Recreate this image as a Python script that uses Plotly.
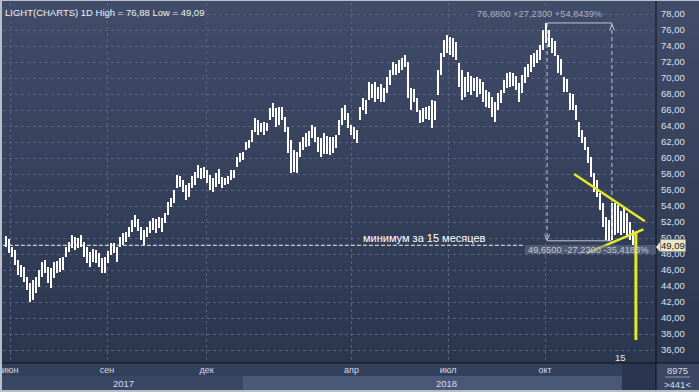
import plotly.graph_objects as go

# ---------------- data ----------------
highs = [
    50.3, 49.9, 48.9, 48.5, 47.3, 46.6, 46.4, 45.1, 44.4, 44.75,
    45.1, 46.0, 47.0, 47.3, 46.4, 46.25, 47.0, 47.1, 47.5, 47.6,
    48.9, 49.5, 50.4, 50.1, 50.0, 50.4, 49.5, 48.9, 48.25, 48.6,
    48.5, 48.1, 47.5, 47.6, 48.4, 49.4, 49.4, 48.9, 50.1, 50.6,
    50.75, 51.4, 52.25, 52.9, 52.4, 51.4, 51.0, 51.4, 52.1, 52.5,
    52.4, 52.6, 52.5, 53.1, 54.5, 55.0, 56.0, 57.9, 57.75, 57.25,
    56.6, 56.9, 57.75, 58.25, 59.1, 58.75, 58.9, 58.5, 57.9, 57.5,
    58.1, 58.6, 57.6, 57.5, 57.75, 58.5, 58.5, 60.1, 60.6, 60.75,
    62.0, 62.25, 63.5, 65.0, 64.75, 64.4, 64.5, 64.4, 66.25, 66.9,
    66.25, 66.4, 66.4, 65.1, 63.9, 62.25, 61.0, 60.75, 62.0, 62.6,
    63.1, 63.4, 64.1, 63.9, 62.6, 62.5, 63.1, 62.75, 62.6, 62.6,
    62.9, 64.75, 66.25, 66.6, 65.6, 64.1, 63.9, 63.5, 66.4, 67.5,
    67.25, 69.5, 69.25, 69.5, 68.9, 69.2, 68.75, 70.1, 71.0, 72.0,
    71.75, 72.25, 72.5, 72.9, 72.0, 68.75, 68.6, 67.5, 66.0, 66.25,
    66.4, 66.5, 67.25, 67.1, 71.0, 73.1, 74.75, 75.4, 75.1, 75.0,
    74.5, 71.9, 71.0, 70.1, 70.75, 70.25, 70.0, 70.1, 69.9, 69.5,
    68.5, 68.25, 67.6, 67.0, 68.1, 68.5, 69.75, 70.6, 70.75, 70.6,
    70.25, 69.4, 70.4, 71.4, 71.75, 72.9, 73.1, 73.5, 74.1, 76.0,
    76.88, 76.0, 75.0, 74.6, 72.9, 72.4, 70.1, 69.9, 68.1, 68.0,
    66.6, 64.5, 63.5, 62.6, 61.4, 60.1, 58.1, 57.25, 55.6, 54.4,
    52.6, 52.25, 54.4, 54.4, 54.1, 53.4, 53.75, 53.1, 52.0, 51.0,
]
lows = [
    48.9, 48.1, 47.6, 46.6, 45.4, 45.1, 44.5, 43.5, 42.0, 42.25,
    43.1, 43.9, 45.1, 45.6, 44.4, 43.75, 45.0, 45.6, 45.75, 46.0,
    47.6, 48.25, 48.75, 48.5, 48.75, 48.9, 47.6, 46.9, 46.4, 47.0,
    46.9, 46.4, 45.6, 45.6, 46.9, 47.9, 48.1, 47.0, 48.9, 49.1,
    49.5, 50.1, 50.75, 51.4, 50.9, 49.75, 49.1, 50.1, 50.6, 51.0,
    50.6, 51.25, 50.75, 51.9, 52.9, 53.9, 54.4, 56.25, 56.4, 55.75,
    54.75, 55.1, 56.25, 56.6, 57.5, 57.4, 57.5, 56.9, 56.0, 55.75,
    56.4, 56.75, 56.25, 56.6, 56.75, 57.25, 57.5, 58.9, 59.5, 59.75,
    61.0, 61.25, 62.0, 63.25, 62.9, 63.25, 62.9, 63.4, 64.75, 65.1,
    63.9, 64.1, 64.75, 63.25, 60.6, 58.1, 58.25, 58.1, 60.1, 61.0,
    61.4, 61.5, 62.5, 62.0, 60.75, 60.1, 60.5, 60.5, 60.4, 60.6,
    61.25, 62.9, 64.1, 64.75, 63.75, 62.9, 62.4, 61.9, 64.75, 66.0,
    65.5, 67.25, 67.5, 67.0, 67.4, 67.0, 67.0, 68.1, 69.1, 70.4,
    70.4, 70.6, 71.0, 71.4, 67.5, 66.0, 67.0, 65.75, 64.4, 64.5,
    64.9, 64.75, 63.75, 64.75, 67.9, 70.4, 72.6, 73.1, 72.9, 72.6,
    72.25, 68.9, 67.25, 67.6, 68.25, 67.9, 68.4, 67.6, 68.0, 67.0,
    66.4, 66.25, 65.1, 64.5, 66.0, 66.9, 68.1, 68.75, 68.9, 69.0,
    68.5, 67.0, 68.1, 69.4, 70.1, 70.75, 71.4, 71.9, 72.25, 73.5,
    74.4, 73.9, 73.1, 72.75, 70.6, 70.4, 68.25, 68.25, 66.0, 66.0,
    64.75, 62.6, 61.9, 61.0, 59.4, 57.6, 55.75, 55.1, 53.5, 51.4,
    49.75, 49.65, 49.75, 50.4, 50.6, 50.4, 50.6, 50.1, 49.75, 49.09,
]
bar_index = list(range(len(highs)))

month_ticks = [1.17, 33.5, 66.7, 115.0, 147.2, 179.5]
month_labels = ["июн", "сен", "дек", "апр", "июл", "окт"]
year_labels = ["2017", "2018"]
price_ticks = list(range(36, 80, 2))
price_labels = [f"{p},00" for p in price_ticks]

peak_price = 76.88
trough_price = 49.65
last_price = 49.09
peak_bar = 180.2
measure_end_bar = 201.8

# ---------------- geometry helpers ----------------
W, H = 699, 392
ML, MR, MT, MB = 3, 43, 3, 29
PW = W - ML - MR
PH = H - MT - MB


def px(x):
    return (x - ML) / PW


def py(y):
    return (H - MB - y) / PH


GRID = "#56627e"
FONT = "Liberation Sans"

fig = go.Figure()
fig.add_trace(go.Bar(
    x=bar_index,
    y=[h - l for h, l in zip(highs, lows)],
    base=lows,
    width=0.5,
    marker=dict(color="#ffffff", line=dict(width=0)),
    hoverinfo="skip",
    showlegend=False,
))

shapes = []
# background gradient (plot + price panel)
top = (64, 76, 104)
bot = (43, 54, 79)
n = 30
for k in range(n):
    t = (k + 0.5) / n
    c = tuple(int(round(top[j] + (bot[j] - top[j]) * t)) for j in range(3))
    shapes.append(dict(type="rect", xref="paper", yref="paper", layer="below",
                       x0=px(0), x1=px(W), y0=py(363) + (1 - (k + 1) / n) * (py(0) - py(363)) - 0.001,
                       y1=py(363) + (1 - k / n) * (py(0) - py(363)) + 0.001,
                       line=dict(width=0), fillcolor="rgb(%d,%d,%d)" % c))
# bottom date panel
shapes += [
    dict(type="rect", xref="paper", yref="paper", layer="below", x0=px(0), x1=px(656),
         y0=py(392), y1=py(363), line=dict(width=0), fillcolor="#33405c"),
    dict(type="rect", xref="paper", yref="paper", layer="below", x0=px(0), x1=px(656),
         y0=py(390), y1=py(376), line=dict(width=0), fillcolor="#3a4764"),
    dict(type="rect", xref="paper", yref="paper", layer="below", x0=px(243), x1=px(622),
         y0=py(390), y1=py(376), line=dict(width=0), fillcolor="#4a5877"),
    dict(type="rect", xref="paper", yref="paper", layer="below", x0=px(622), x1=px(656),
         y0=py(390), y1=py(363), line=dict(width=0), fillcolor="#2b3550"),
    dict(type="rect", xref="paper", yref="paper", layer="below", x0=px(656), x1=px(W),
         y0=py(392), y1=py(363), line=dict(width=0), fillcolor="#3a4663"),
    # frame
    dict(type="rect", xref="paper", yref="paper", layer="above", x0=px(0), x1=px(2),
         y0=py(392), y1=py(0), line=dict(width=0), fillcolor="#b9bfc9"),
    dict(type="rect", xref="paper", yref="paper", layer="above", x0=px(0), x1=px(W),
         y0=py(1), y1=py(0), line=dict(width=0), fillcolor="#b9bfc9"),
    dict(type="rect", xref="paper", yref="paper", layer="above", x0=px(0), x1=px(W),
         y0=py(392), y1=py(390), line=dict(width=0), fillcolor="#b9bfc9"),
    # separators
    dict(type="line", xref="paper", yref="paper", layer="above", x0=px(656), x1=px(656),
         y0=py(390), y1=py(1), line=dict(color="#0e1320", width=1)),
    dict(type="line", xref="paper", yref="paper", layer="above", x0=px(2), x1=px(W),
         y0=py(363), y1=py(363), line=dict(color="#0e1320", width=1.2)),
    dict(type="line", xref="paper", yref="paper", layer="above", x0=px(665), x1=px(690),
         y0=py(377), y1=py(377), line=dict(color="#8a94aa", width=1)),
]

MEAS = "#c3c8d2"
shapes += [
    # last-price dotted line
    dict(type="line", xref="x", yref="y", x0=-1.2, x1=172.8, y0=last_price, y1=last_price,
         line=dict(color="#f2f2f2", width=1, dash="4px,2px")),
    # measurement tool
    dict(type="line", xref="x", yref="y", x0=peak_bar, x1=measure_end_bar,
         y0=peak_price, y1=peak_price, line=dict(color=MEAS, width=1)),
    dict(type="line", xref="x", yref="y", x0=peak_bar, x1=measure_end_bar,
         y0=trough_price, y1=trough_price, line=dict(color=MEAS, width=1)),
    dict(type="line", xref="x", yref="y", x0=peak_bar, x1=peak_bar,
         y0=peak_price, y1=trough_price, line=dict(color=MEAS, width=1, dash="4px,3px")),
    dict(type="line", xref="x", yref="y", x0=measure_end_bar, x1=measure_end_bar,
         y0=peak_price, y1=trough_price + 0.4, line=dict(color=MEAS, width=1, dash="4px,3px")),
    dict(type="path", xref="x", yref="y",
         path=f"M {peak_bar - 0.8},{trough_price + 0.8} L {peak_bar},{trough_price + 0.1} L {peak_bar + 0.8},{trough_price + 0.8}",
         line=dict(color=MEAS, width=1)),
    dict(type="path", xref="x", yref="y",
         path=f"M {measure_end_bar - 0.8},{peak_price - 0.9} L {measure_end_bar},{peak_price - 0.2} L {measure_end_bar + 0.8},{peak_price - 0.9}",
         line=dict(color=MEAS, width=1)),
    # yellow trend lines
    dict(type="line", xref="x", yref="y", x0=189.2, x1=212.8, y0=58.0, y1=52.1,
         line=dict(color="#e8e828", width=2.5)),
    dict(type="line", xref="x", yref="y", x0=193.5, x1=212.3, y0=48.1, y1=51.09,
         line=dict(color="#e8e828", width=2.5)),
    # measurement result box (semi-transparent)
    dict(type="rect", xref="x", yref="y", x0=172.8, x1=216.6, y0=48.0, y1=49.12,
         line=dict(width=0), fillcolor="rgba(105,115,138,0.55)"),
    # vertical yellow target line
    dict(type="line", xref="x", yref="y", x0=209.8, x1=209.8, y0=50.8, y1=37.25,
         line=dict(color="#e8e828", width=3)),
    # price marker arrow
    dict(type="path", xref="paper", yref="paper",
         path=f"M {px(656)},{py(247)} L {px(660)},{py(242)} L {px(660)},{py(252)} Z",
         fillcolor="#e9e6c9", line=dict(width=0)),
]

annotations = [
    dict(xref="paper", yref="paper", x=px(3), y=py(12), xanchor="left", yanchor="middle",
         text="LIGHT(CHARTS) 1D High = 76,88 Low = 49,09", showarrow=False,
         font=dict(family=FONT, size=9.5, color="#eef0f4")),
    dict(xref="x", yref="y", x=177.8, y=77.94, xanchor="center", yanchor="middle",
         text="76,8800 +27,2300 +54,8439%", showarrow=False,
         font=dict(family=FONT, size=9.3, color="#a9b1c3")),
    dict(xref="x", yref="y", x=173.2, y=48.56, xanchor="left", yanchor="middle",
         text="49,6500 -27,2300 -35,4183%", showarrow=False,
         font=dict(family=FONT, size=9.3, color="#c4c9d5")),
    dict(xref="x", yref="y", x=139.3, y=49.94, xanchor="center", yanchor="middle",
         text="минимум за 15 месяцев", showarrow=False,
         font=dict(family=FONT, size=11, color="#ffffff")),
    dict(xref="x", yref="y", x=204.5, y=35.1, xanchor="center", yanchor="middle",
         text="15", showarrow=False, font=dict(family=FONT, size=9.5, color="#e8ecf2")),
    dict(xref="paper", yref="y", x=px(660), y=last_price, xanchor="left", yanchor="middle",
         text=f"{last_price:.2f}".replace(".", ","), showarrow=False,
         bgcolor="#e9e6c9", bordercolor="#9a967c", borderwidth=1, borderpad=0,
         font=dict(family=FONT, size=9.5, color="#1c1c1c")),
    dict(xref="paper", yref="paper", x=px(123), y=py(383.5), xanchor="center", yanchor="middle",
         text=year_labels[0], showarrow=False, font=dict(family=FONT, size=9.5, color="#d4dae6")),
    dict(xref="paper", yref="paper", x=px(447), y=py(383.5), xanchor="center", yanchor="middle",
         text=year_labels[1], showarrow=False, font=dict(family=FONT, size=9.5, color="#d4dae6")),
    dict(xref="paper", yref="paper", x=px(677), y=py(370), xanchor="center", yanchor="middle",
         text="8975", showarrow=False, font=dict(family=FONT, size=9.5, color="#d4dae6")),
    dict(xref="paper", yref="paper", x=px(677), y=py(384), xanchor="center", yanchor="middle",
         text="&gt;441&lt;", showarrow=False, font=dict(family=FONT, size=9.5, color="#d4dae6")),
]

fig.update_layout(
    width=W, height=H,
    margin=dict(l=ML, r=MR, t=MT, b=MB, pad=0),
    paper_bgcolor="#33405c",
    plot_bgcolor="#36425f",
    showlegend=False,
    bargap=0,
    shapes=shapes,
    annotations=annotations,
    xaxis=dict(
        range=[-1.1667, 216.5], tickmode="array", tickvals=month_ticks, ticktext=month_labels,
        showgrid=True, gridcolor=GRID, griddash="3px,3px", gridwidth=1,
        zeroline=False, showline=False, ticks="", ticklabelstandoff=0,
        tickfont=dict(family=FONT, size=9, color="#d4dae6"), fixedrange=True,
    ),
    yaxis=dict(
        range=[34.375, 79.375], side="right", tickmode="array", tickvals=price_ticks,
        ticktext=price_labels, showgrid=True, gridcolor=GRID, griddash="3px,3px", gridwidth=1,
        zeroline=False, showline=False, ticks="", ticklabelstandoff=4,
        tickfont=dict(family=FONT, size=9.5, color="#dde2ec"), fixedrange=True,
    ),
)

fig.write_html(
    "out.html",
    config={"displayModeBar": False},
    post_script="document.body.style.margin='0px';document.body.style.overflow='hidden';",
)
